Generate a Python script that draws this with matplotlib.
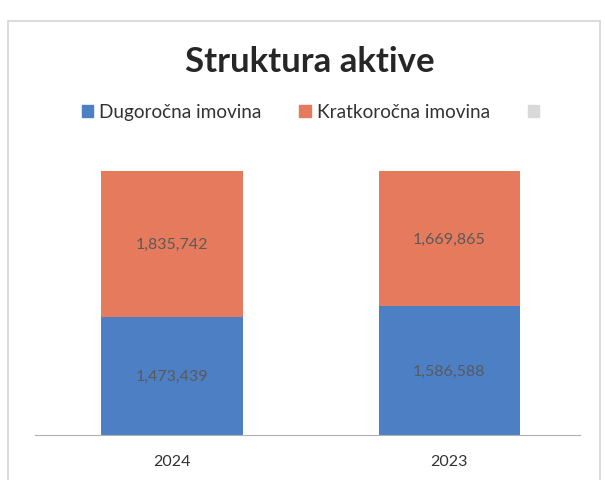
import matplotlib.pyplot as plt
from matplotlib.patches import Patch, Rectangle
import numpy as np

plt.rcParams['font.family'] = ['Lato', 'DejaVu Sans']

years = ['2024', '2023']
dugorocna = [1473439, 1586588]
kratkorocna = [1835742, 1669865]

blue = '#4d7fc4'
orange = '#e57b5c'

fig = plt.figure(figsize=(6.05, 4.81), dpi=100)

# chart frame (scan of an excel chart)
fig.patches.append(Rectangle((8 / 605, -0.01), 592 / 605, 1 - 22 / 481 + 0.01,
                             transform=fig.transFigure, fill=False,
                             edgecolor='#d4d4d4', linewidth=1.2))

ax = fig.add_axes([35 / 605, 1 - 436 / 481, 545 / 605, 264 / 481])

d = np.array(dugorocna, dtype=float)
k = np.array(kratkorocna, dtype=float)
tot = d + k
x = np.arange(len(years))
w = 0.51

ax.bar(x, d / tot, w, color=blue, label='Dugoročna imovina')
ax.bar(x, k / tot, w, bottom=d / tot, color=orange, label='Kratkoročna imovina')

for i in range(len(years)):
    ax.text(x[i], d[i] / tot[i] / 2, f'{dugorocna[i]:,}', ha='center', va='center',
            fontsize=11.5, color='#5a5a5a')
    ax.text(x[i], d[i] / tot[i] + k[i] / tot[i] / 2, f'{kratkorocna[i]:,}',
            ha='center', va='center', fontsize=11.5, color='#5a5a5a')

ax.set_xlim(-0.495, 1.472)
ax.set_ylim(0, 1)
ax.set_xticks(x)
ax.set_xticklabels(years, fontsize=11.5, color='#333333')
ax.tick_params(axis='x', length=0, pad=14)
ax.set_yticks([])
for s in ['top', 'right', 'left']:
    ax.spines[s].set_visible(False)
ax.spines['bottom'].set_color('#b0b0b0')

fig.text(310 / 605, 1 - 62 / 481, 'Struktura aktive', ha='center', va='center',
         fontsize=25, fontweight='bold', color='#262626')

handles = [Patch(color=blue), Patch(color=orange), Patch(color='#d9d9d9')]
labels = ['Dugoročna imovina', 'Kratkoročna imovina', '']
fig.legend(handles, labels, loc='center', bbox_to_anchor=(0.518, 1 - 113 / 481),
           ncol=3, frameon=False, fontsize=13.7, handlelength=0.6, handleheight=0.6,
           handletextpad=0.3, columnspacing=2.0, labelcolor='#333333')

plt.savefig('out.png', dpi=100)
